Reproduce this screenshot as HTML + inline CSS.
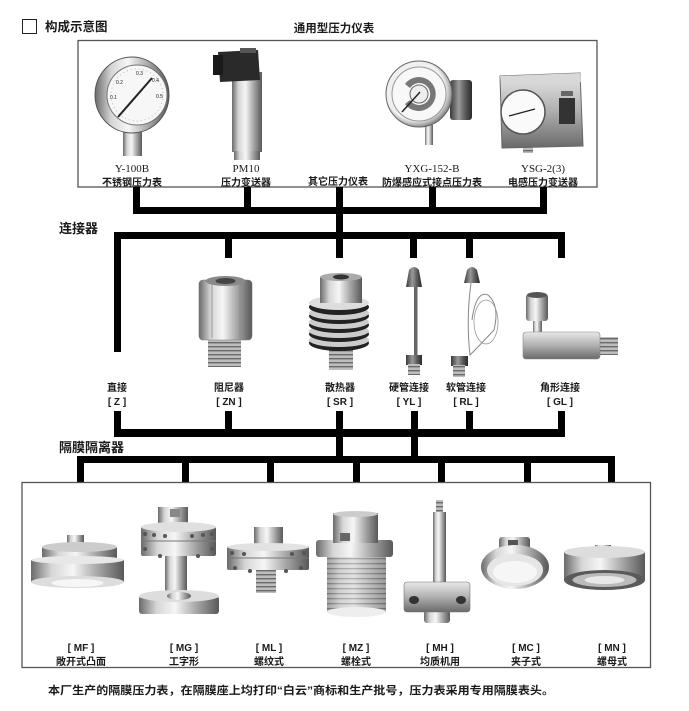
<!DOCTYPE html>
<html><head><meta charset="utf-8"><style>
html,body{margin:0;padding:0;background:#fff;}
svg{display:block;}
text{font-family:"Liberation Sans","Noto Sans CJK SC",sans-serif;fill:#1a1a1a;}
.s{font-family:"Liberation Serif","Noto Serif CJK SC",serif;}
</style></head><body>
<svg width="689" height="711" viewBox="0 0 689 711" xmlns="http://www.w3.org/2000/svg">
<defs>
<linearGradient id="mh" x1="0" y1="0" x2="1" y2="0">
<stop offset="0" stop-color="#6a6a6a"/><stop offset=".22" stop-color="#d6d6d6"/><stop offset=".45" stop-color="#f6f6f6"/><stop offset=".72" stop-color="#a6a6a6"/><stop offset="1" stop-color="#585858"/></linearGradient>
<linearGradient id="md" x1="0" y1="0" x2="1" y2="0">
<stop offset="0" stop-color="#3a3a3a"/><stop offset=".4" stop-color="#9a9a9a"/><stop offset=".7" stop-color="#5a5a5a"/><stop offset="1" stop-color="#2a2a2a"/></linearGradient>
<linearGradient id="mv" x1="0" y1="0" x2="0" y2="1">
<stop offset="0" stop-color="#e8e8e8"/><stop offset=".5" stop-color="#b0b0b0"/><stop offset="1" stop-color="#6a6a6a"/></linearGradient>
<radialGradient id="rim" cx=".45" cy=".45" r=".6">
<stop offset=".75" stop-color="#f0f0f0"/><stop offset=".9" stop-color="#9a9a9a"/><stop offset="1" stop-color="#555"/></radialGradient>
<pattern id="thr" width="4" height="4" patternUnits="userSpaceOnUse"><rect width="4" height="4" fill="#bdbdbd"/><rect y="2" width="4" height="1.4" fill="#6a6a6a"/></pattern>
<pattern id="thr2" width="5" height="5" patternUnits="userSpaceOnUse"><rect width="5" height="5" fill="#d0d0d0"/><rect y="3" width="5" height="1.3" fill="#7a7a7a"/></pattern>
</defs>

<!-- header -->
<rect x="22.5" y="19.5" width="14" height="14" fill="none" stroke="#222" stroke-width="1"/>
<text x="45" y="31" font-size="12.5" font-weight="bold">构成示意图</text>
<text x="334" y="32" font-size="11.5" font-weight="bold" text-anchor="middle">通用型压力仪表</text>

<!-- top box -->
<rect x="78" y="40.5" width="519" height="146.5" fill="#fff" stroke="#555" stroke-width="1.3"/>

<!-- Y-100B gauge -->
<rect x="123" y="130" width="19" height="26" fill="url(#mh)"/>
<ellipse cx="132" cy="95" rx="37" ry="38" fill="url(#mh)" stroke="#555"/>
<circle cx="137" cy="95" r="30" fill="#f7f7f7" stroke="#777"/>
<circle cx="137" cy="95" r="26" fill="none" stroke="#bbb" stroke-dasharray="1 3"/>
<line x1="118" y1="117" x2="152" y2="78" stroke="#222" stroke-width="2"/>
<text x="136" y="75" font-size="5" fill="#444">0.3</text>
<text x="152" y="82" font-size="5" fill="#444">0.4</text>
<text x="156" y="98" font-size="5" fill="#444">0.5</text>
<text x="116" y="84" font-size="5" fill="#444">0.2</text>
<text x="110" y="99" font-size="5" fill="#444">0.1</text>

<!-- PM10 -->
<rect x="232" y="72" width="30" height="80" fill="url(#mh)"/>
<rect x="234" y="151" width="26" height="9" fill="url(#mh)"/>
<polygon points="218,52 258,50 260,80 220,82" fill="#2a2a2a"/>
<rect x="213" y="55" width="10" height="20" fill="#1a1a1a"/>
<rect x="240" y="48" width="16" height="5" fill="#555"/>

<!-- YXG-152-B -->
<rect x="425" y="125" width="8" height="20" fill="url(#mh)"/>
<rect x="450" y="80" width="22" height="40" rx="3" fill="url(#md)"/>
<circle cx="419" cy="94" r="33" fill="url(#rim)" stroke="#666"/>
<circle cx="419" cy="94" r="27" fill="#f8f8f8" stroke="#999"/>
<path d="M405,84 A17,17 0 1,1 405,104 L410,100 A11,11 0 1,0 410,88 Z" fill="#777"/>
<circle cx="419" cy="94" r="9" fill="#eee" stroke="#666"/>
<line x1="402" y1="112" x2="420" y2="92" stroke="#222" stroke-width="1.5"/>

<!-- YSG-2(3) -->
<rect x="523" y="138" width="10" height="15" fill="url(#thr)"/>
<polygon points="500,76 580,73 583,146 502,148" fill="url(#mv)" stroke="#666"/>
<polygon points="500,76 580,73 581,82 501,84" fill="#d8d8d8"/>
<circle cx="523" cy="112" r="22" fill="#fafafa" stroke="#555" stroke-width="1.5"/>
<line x1="509" y1="116" x2="535" y2="109" stroke="#222" stroke-width="1.3"/>
<rect x="559" y="98" width="16" height="26" fill="#333"/>
<rect x="561" y="91" width="12" height="5" fill="#666"/>

<!-- top labels -->
<text class="s" x="132" y="172" font-size="11" text-anchor="middle">Y-100B</text>
<text x="132" y="186" font-size="10" font-weight="bold" text-anchor="middle">不锈钢压力表</text>
<text class="s" x="246" y="172" font-size="11" text-anchor="middle">PM10</text>
<text x="246" y="186" font-size="10" font-weight="bold" text-anchor="middle">压力变送器</text>
<text x="338" y="185" font-size="10" font-weight="bold" text-anchor="middle">其它压力仪表</text>
<text class="s" x="432" y="172" font-size="11" text-anchor="middle">YXG-152-B</text>
<text x="432" y="186" font-size="10" font-weight="bold" text-anchor="middle">防爆感应式接点压力表</text>
<text class="s" x="543" y="172" font-size="11" text-anchor="middle">YSG-2(3)</text>
<text x="543" y="186" font-size="10" font-weight="bold" text-anchor="middle">电感压力变送器</text>

<!-- bus 1 -->
<g fill="#000">
<rect x="133" y="187" width="7" height="27"/>
<rect x="244" y="187" width="7" height="27"/>
<rect x="336" y="187" width="7" height="52"/>
<rect x="429" y="187" width="7" height="27"/>
<rect x="540" y="187" width="7" height="27"/>
<rect x="133" y="207" width="414" height="7"/>
<!-- bus 2 -->
<rect x="114" y="232" width="451" height="7"/>
<rect x="114" y="232" width="7" height="120"/>
<rect x="225" y="232" width="7" height="26"/>
<rect x="336" y="232" width="7" height="26"/>
<rect x="410" y="232" width="7" height="26"/>
<rect x="466" y="232" width="7" height="26"/>
<rect x="558" y="232" width="7" height="26"/>
<!-- bus 3 -->
<rect x="114" y="411" width="7" height="26"/>
<rect x="225" y="411" width="7" height="26"/>
<rect x="336" y="411" width="7" height="52"/>
<rect x="411" y="411" width="7" height="52"/>
<rect x="466" y="411" width="7" height="26"/>
<rect x="558" y="411" width="7" height="26"/>
<rect x="114" y="429" width="451" height="8"/>
<!-- bus 4 -->
<rect x="77" y="456" width="538" height="7"/>
<rect x="77" y="456" width="7" height="27"/>
<rect x="182" y="456" width="7" height="27"/>
<rect x="267" y="456" width="7" height="27"/>
<rect x="353" y="456" width="7" height="27"/>
<rect x="438" y="456" width="7" height="27"/>
<rect x="524" y="456" width="7" height="27"/>
<rect x="608" y="456" width="7" height="27"/>
</g>

<text x="59" y="233" font-size="13" font-weight="bold">连接器</text>
<text x="59" y="452" font-size="13" font-weight="bold">隔膜隔离器</text>

<!-- ZN -->
<rect x="208" y="338" width="33" height="29" fill="url(#thr)"/>
<rect x="199" y="280" width="53" height="60" rx="4" fill="url(#mh)" stroke="#777" stroke-width=".6"/>
<ellipse cx="225.5" cy="281" rx="20" ry="5" fill="#8a8a8a"/>
<ellipse cx="225.5" cy="281" rx="10" ry="3" fill="#444"/>
<line x1="212" y1="282" x2="212" y2="338" stroke="#888" stroke-width=".8"/>
<line x1="240" y1="282" x2="240" y2="338" stroke="#888" stroke-width=".8"/>

<!-- SR -->
<rect x="329" y="348" width="24" height="22" fill="url(#thr)"/>
<g>
<ellipse cx="339" cy="343" rx="30" ry="8" fill="#222"/>
<ellipse cx="339" cy="340" rx="30" ry="7" fill="#ccc"/>
<ellipse cx="339" cy="334" rx="30" ry="8" fill="#222"/>
<ellipse cx="339" cy="331" rx="30" ry="7" fill="#ccc"/>
<ellipse cx="339" cy="325" rx="30" ry="8" fill="#222"/>
<ellipse cx="339" cy="322" rx="30" ry="7" fill="#ccc"/>
<ellipse cx="339" cy="316" rx="30" ry="8" fill="#222"/>
<ellipse cx="339" cy="313" rx="30" ry="7" fill="#ccc"/>
<ellipse cx="339" cy="307" rx="30" ry="8" fill="#222"/>
<ellipse cx="339" cy="303" rx="30" ry="7" fill="#ddd"/>
</g>
<rect x="320" y="277" width="42" height="26" fill="url(#mh)"/>
<ellipse cx="341" cy="277" rx="21" ry="4" fill="#aaa"/>
<ellipse cx="341" cy="277" rx="8" ry="2.5" fill="#333"/>

<!-- YL -->
<rect x="414" y="286" width="3.5" height="70" fill="#666"/>
<path d="M406,287 L409,270 Q414,264 419,270 L422,287 Z" fill="url(#md)"/>
<rect x="406" y="355" width="16" height="10" fill="url(#md)"/>
<rect x="408" y="364" width="12" height="11" fill="url(#thr)"/>

<!-- RL -->
<path d="M471,283 Q466,320 470,355 Q480,345 494,330 Q500,305 488,295 Q476,290 472,320" fill="none" stroke="#888" stroke-width="1"/>
<ellipse cx="486" cy="322" rx="12" ry="22" fill="none" stroke="#999" stroke-width=".8"/>
<path d="M464,283 L467,270 Q472,264 477,270 L480,283 Z" fill="url(#md)"/>
<rect x="451" y="356" width="17" height="10" fill="url(#md)"/>
<rect x="453" y="365" width="12" height="12" fill="url(#thr)"/>

<!-- GL -->
<rect x="596" y="337" width="22" height="18" fill="url(#thr)"/>
<rect x="533" y="318" width="9" height="16" fill="url(#mh)"/>
<rect x="523" y="332" width="77" height="27" rx="3" fill="url(#mv)" stroke="#888" stroke-width=".6"/>
<rect x="526" y="294" width="22" height="27" rx="3" fill="url(#mh)"/>
<ellipse cx="537" cy="295" rx="10" ry="3" fill="#555"/>

<!-- connector labels -->
<g font-size="10" font-weight="bold" text-anchor="middle">
<text x="117" y="391">直接</text><text x="117" y="405">[ Z ]</text>
<text x="229" y="391">阻尼器</text><text x="229" y="405">[ ZN ]</text>
<text x="340" y="391">散热器</text><text x="340" y="405">[ SR ]</text>
<text x="409" y="391">硬管连接</text><text x="409" y="405">[ YL ]</text>
<text x="466" y="391">软管连接</text><text x="466" y="405">[ RL ]</text>
<text x="560" y="391">角形连接</text><text x="560" y="405">[ GL ]</text>
</g>

<!-- bottom box -->
<rect x="22" y="482.5" width="628.5" height="185" fill="none" stroke="#555" stroke-width="1.3"/>

<!-- MF -->
<rect x="67" y="535" width="17" height="12" fill="url(#mh)"/>
<rect x="31" y="560" width="93" height="22" fill="url(#mh)"/>
<ellipse cx="77.5" cy="582" rx="46.5" ry="6" fill="#ddd"/>
<ellipse cx="77.5" cy="583" rx="26" ry="4" fill="#f6f6f6"/>
<rect x="42" y="547" width="75" height="15" fill="url(#mh)"/>
<ellipse cx="79.5" cy="547" rx="37.5" ry="5" fill="#ccc"/>
<ellipse cx="77.5" cy="560" rx="46.5" ry="4" fill="#e8e8e8"/>

<!-- MG -->
<rect x="165" y="555" width="22" height="40" fill="url(#mh)"/>
<rect x="139" y="596" width="80" height="18" rx="3" fill="url(#mh)"/>
<ellipse cx="179" cy="596" rx="40" ry="6" fill="#ddd"/>
<ellipse cx="179" cy="596" rx="12" ry="4" fill="url(#mh)"/>
<rect x="158" y="507" width="30" height="20" fill="url(#mh)"/>
<rect x="170" y="509" width="10" height="8" fill="#888"/>
<rect x="141" y="526" width="75" height="30" rx="2" fill="url(#mh)"/>
<ellipse cx="178.5" cy="527" rx="37.5" ry="5" fill="#e0e0e0"/>
<line x1="141" y1="541" x2="216" y2="541" stroke="#777"/>
<g fill="#555"><circle cx="145" cy="534" r="2"/><circle cx="154" cy="535" r="2"/><circle cx="165" cy="536" r="2"/><circle cx="192" cy="536" r="2"/><circle cx="203" cy="535" r="2"/><circle cx="212" cy="534" r="2"/><circle cx="145" cy="549" r="2"/><circle cx="212" cy="549" r="2"/><circle cx="160" cy="556" r="2"/><circle cx="198" cy="556" r="2"/></g>

<!-- ML -->
<rect x="256" y="570" width="20" height="23" fill="url(#thr)"/>
<rect x="254" y="527" width="29" height="22" fill="url(#mh)"/>
<rect x="227" y="546" width="82" height="24" rx="2" fill="url(#mh)"/>
<ellipse cx="268" cy="547" rx="41" ry="4" fill="#e2e2e2"/>
<line x1="227" y1="558" x2="309" y2="558" stroke="#777"/>
<g fill="#555"><circle cx="232" cy="553" r="2"/><circle cx="244" cy="554" r="2"/><circle cx="292" cy="554" r="2"/><circle cx="304" cy="553" r="2"/><circle cx="235" cy="568" r="2"/><circle cx="250" cy="571" r="2"/><circle cx="286" cy="571" r="2"/><circle cx="301" cy="568" r="2"/></g>

<!-- MZ -->
<rect x="327" y="556" width="59" height="56" fill="url(#thr2)"/>
<rect x="327" y="556" width="59" height="56" fill="url(#mh)" opacity=".45"/>
<ellipse cx="356.5" cy="612" rx="29.5" ry="5" fill="#eee"/>
<rect x="316" y="540" width="77" height="17" rx="3" fill="url(#mh)"/>
<rect x="333" y="513" width="45" height="30" fill="url(#mh)"/>
<ellipse cx="355.5" cy="514" rx="22.5" ry="3" fill="#ccc"/>
<rect x="340" y="533" width="10" height="8" fill="#666"/>

<!-- MH -->
<rect x="436" y="500" width="7" height="14" fill="url(#thr)"/>
<rect x="433" y="512" width="13" height="72" fill="url(#mh)"/>
<rect x="424" y="610" width="26" height="13" rx="3" fill="url(#mh)"/>
<rect x="404" y="582" width="66" height="30" rx="3" fill="url(#mv)" stroke="#777" stroke-width=".6"/>
<ellipse cx="414" cy="600" rx="5" ry="4" fill="#333"/>
<ellipse cx="461" cy="600" rx="5" ry="4" fill="#333"/>

<!-- MC -->
<rect x="499" y="537" width="31" height="15" rx="3" fill="url(#mh)"/>
<rect x="508" y="540" width="10" height="7" fill="#555"/>
<ellipse cx="515" cy="567" rx="34" ry="22" fill="url(#mh)"/>
<ellipse cx="515" cy="570" rx="28" ry="16" fill="#e6e6e6"/>
<ellipse cx="515" cy="572" rx="22" ry="11" fill="#f6f6f6"/>

<!-- MN -->
<rect x="595" y="545" width="16" height="8" fill="url(#mh)"/>
<rect x="564" y="552" width="81" height="28" fill="url(#mh)"/>
<ellipse cx="604.5" cy="552" rx="40.5" ry="6" fill="#ddd"/>
<ellipse cx="604.5" cy="580" rx="40.5" ry="10" fill="#5a5a5a"/>
<ellipse cx="604.5" cy="580" rx="32" ry="7" fill="#bbb"/>
<ellipse cx="604.5" cy="580" rx="20" ry="4" fill="#e8e8e8"/>

<!-- bottom labels -->
<g font-size="10" font-weight="bold" text-anchor="middle">
<text x="81" y="651">[ MF ]</text><text x="81" y="665">敞开式凸面</text>
<text x="184" y="651">[ MG ]</text><text x="184" y="665">工字形</text>
<text x="269" y="651">[ ML ]</text><text x="269" y="665">螺纹式</text>
<text x="356" y="651">[ MZ ]</text><text x="356" y="665">螺栓式</text>
<text x="440" y="651">[ MH ]</text><text x="440" y="665">均质机用</text>
<text x="526" y="651">[ MC ]</text><text x="526" y="665">夹子式</text>
<text x="612" y="651">[ MN ]</text><text x="612" y="665">螺母式</text>
</g>

<text x="48" y="694" font-size="11" font-weight="bold" textLength="506" lengthAdjust="spacingAndGlyphs">本厂生产的隔膜压力表，在隔膜座上均打印“白云”商标和生产批号，压力表采用专用隔膜表头。</text>
</svg>
</body></html>
